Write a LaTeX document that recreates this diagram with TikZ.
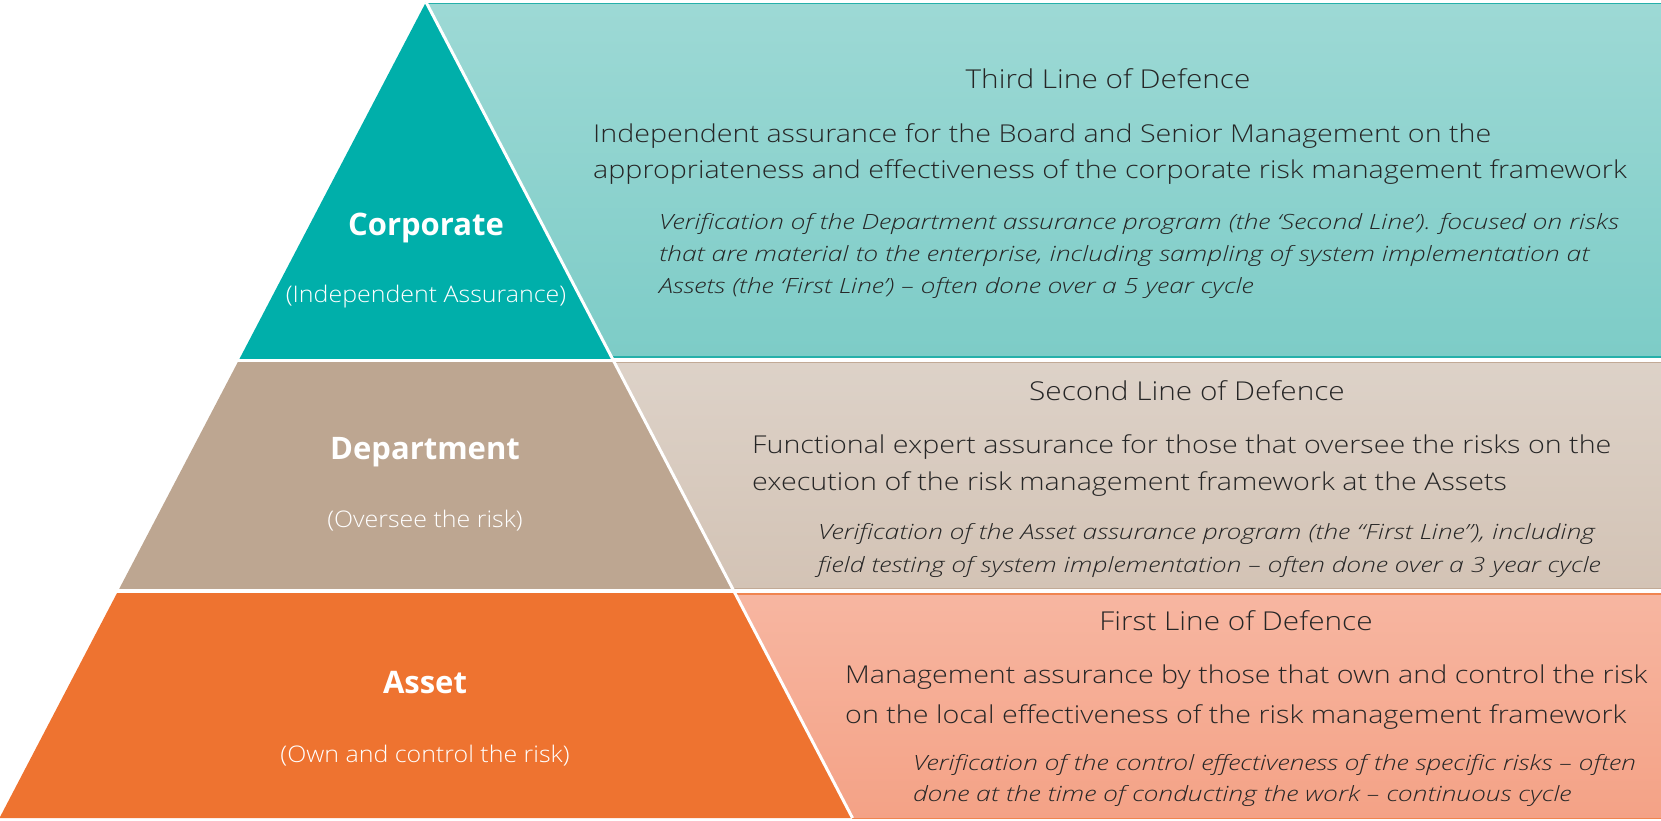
\documentclass[tikz,border=0pt]{standalone}
\usepackage{fontspec}
\setmainfont{Open Sans}
\newfontfamily\bodyfont[FakeStretch=1.165]{Open Sans Light}
\newfontfamily\titlefont[FakeStretch=1.145]{Open Sans Light}
\newfontfamily\subfont[FakeStretch=1.09]{Open Sans Light}
\newfontfamily\notefont[FakeStretch=1.265, ItalicFont={Open Sans Light/I}]{Open Sans Light}
\begin{document}
\begin{tikzpicture}[x=1pt,y=-1pt,
  title/.style={text=black!85, inner sep=0pt, font=\titlefont\fontsize{26}{30}\selectfont},
  body/.style={text=black!85, inner sep=0pt, font=\bodyfont\fontsize{24.6}{30}\selectfont},
  note/.style={text=black!85, inner sep=0pt, font=\notefont\fontsize{21}{24}\selectfont\itshape},
  tierlabel/.style={text=white, inner sep=0pt, font=\fontsize{31}{36}\selectfont\bfseries},
  tiersub/.style={text=white, inner sep=0pt, font=\subfont\fontsize{22.9}{26}\selectfont},
  sep/.style={white, line width=3pt}]
\definecolor{teal1}{HTML}{00AFAA}
\definecolor{p1top}{HTML}{9DD9D5}
\definecolor{p1bot}{HTML}{7DCCC7}
\definecolor{p1line}{HTML}{25B0AA}
\definecolor{tan1}{HTML}{BDA691}
\definecolor{p2top}{HTML}{DDD2C8}
\definecolor{p2bot}{HTML}{D3C3B5}
\definecolor{p2line}{HTML}{C2AA96}
\definecolor{orange1}{HTML}{EE7330}
\definecolor{p3top}{HTML}{F7B6A1}
\definecolor{p3bot}{HTML}{F4A286}
\definecolor{p3line}{HTML}{F08550}
\useasboundingbox (0,0) rectangle (1661,820);
% right panels
\shade[top color=p1top, bottom color=p1bot] (426,3) -- (1661,3) -- (1661,357) -- (611.6,357) -- cycle;
\shade[top color=p2top, bottom color=p2bot] (612,362) -- (1661,362) -- (1661,588) -- (733,588) -- cycle;
\shade[top color=p3top, bottom color=p3bot] (734,594) -- (1661,594) -- (1661,818) -- (852.5,818) -- cycle;
\draw[p1line, line width=1.5pt] (426,3.5) -- (1661,3.5);
\draw[p1line, line width=1.2pt] (611.6,357) -- (1661,357);
\draw[p2line, line width=1pt] (612,362.5) -- (1661,362.5);
\draw[p2line, line width=1pt] (733,588) -- (1661,588);
\draw[p3line, line width=1.2pt] (734,594) -- (1661,594);
\draw[p3line, line width=1.2pt] (852,818.5) -- (1661,818.5);
% pyramid tiers
\coordinate (apex) at (426,2);
\coordinate (base) at (852.5,818);
\fill[teal1] (apex) -- (613.1,360) -- (238.9,360) -- cycle;
\fill[tan1] (613.1,360) -- (733.4,590) -- (118.6,590) -- (238.9,360) -- cycle;
\fill[orange1] (733.4,590) -- (852.5,818) -- (-0.5,818) -- (118.6,590) -- cycle;
\draw[sep] (0,360) -- (1661,360);
\draw[sep, line width=3.5pt] (0,591) -- (1661,591);
\draw[sep] (apex) -- (base);
% tier labels
\node[tierlabel, anchor=base] (corp) at (426,235) {Corporate};
\node[tiersub, anchor=base] (corpsub) at (426,302) {(Independent Assurance)};
\node[tierlabel, anchor=base] (dept) at (425,459) {Department};
\node[tiersub, anchor=base] (deptsub) at (425,527) {(Oversee the risk)};
\node[tierlabel, anchor=base] (asset) at (425,693) {Asset};
\node[tiersub, anchor=base] (assetsub) at (425,762) {(Own and control the risk)};
% third line
\node[title, anchor=base] (t3) at (1108,88) {Third Line of Defence};
\node[body, anchor=base west] (b3a) at (593,142) {Independent assurance for the Board and Senior Management on the};
\node[body, anchor=base west] (b3b) at (593,178) {appropriateness and effectiveness of the corporate risk management framework};
\node[note, anchor=base west] (n3a) at (659,229) {Verification of the Department assurance program (the ‘Second Line’). focused on risks};
\node[note, anchor=base west] (n3b) at (659,261) {that are material to the enterprise, including sampling of system implementation at};
\node[note, anchor=base west] (n3c) at (659,293) {Assets (the ‘First Line’) – often done over a 5 year cycle};
% second line
\node[title, anchor=base] (t2) at (1187,400) {Second Line of Defence};
\node[body, anchor=base west] (b2a) at (752,453) {Functional expert assurance for those that oversee the risks on the};
\node[body, anchor=base west] (b2b) at (752,490) {execution of the risk management framework at the Assets};
\node[note, anchor=base west] (n2a) at (818,539) {Verification of the Asset assurance program (the “First Line”), including};
\node[note, anchor=base west] (n2b) at (818,572) {field testing of system implementation – often done over a 3 year cycle};
% first line
\node[title, anchor=base] (t1) at (1236,630) {First Line of Defence};
\node[body, anchor=base west] (b1a) at (845,683) {Management assurance by those that own and control the risk};
\node[body, anchor=base west] (b1b) at (845,723) {on the local effectiveness of the risk management framework};
\node[note, anchor=base west] (n1a) at (913,770) {Verification of the control effectiveness of the specific risks – often};
\node[note, anchor=base west] (n1b) at (913,801) {done at the time of conducting the work – continuous cycle};
\end{tikzpicture}
\end{document}
